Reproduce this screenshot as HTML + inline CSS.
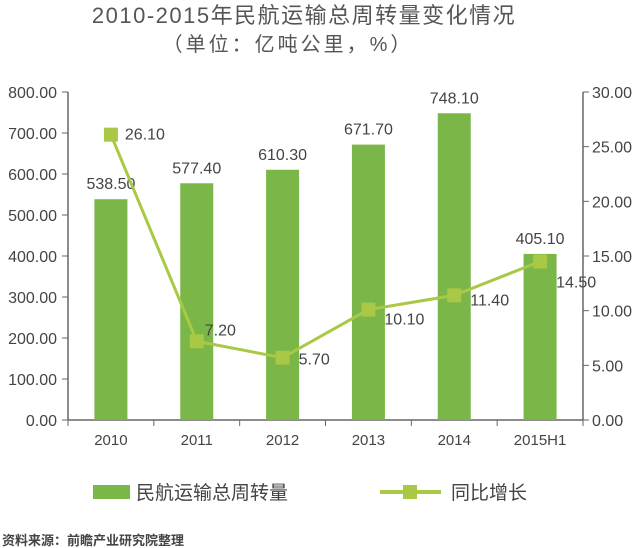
<!DOCTYPE html>
<html><head><meta charset="utf-8"><style>
body{margin:0;background:#fff;width:640px;height:548px;overflow:hidden}
svg{display:block;font-family:"Liberation Sans","Noto Sans CJK SC",sans-serif}
</style></head><body>
<svg width="640" height="548">
<text x="304" y="23" text-anchor="middle" font-size="22" letter-spacing="1.5" fill="#555">2010-2015年民航运输总周转量变化情况</text>
<text x="288" y="51" text-anchor="middle" font-size="20" letter-spacing="3" fill="#555">（单位：亿吨公里，%）</text>
<g id="plot"></g>
<rect x="93" y="485" width="37" height="14" fill="#7ab648"/>
<text x="136" y="499" font-size="19" fill="#444">民航运输总周转量</text>
<line x1="380" y1="492" x2="441" y2="492" stroke="#a8c846" stroke-width="4"/>
<rect x="403" y="485" width="14" height="14" fill="#a8c846"/>
<text x="451" y="499" font-size="19" fill="#444">同比增长</text>
<text x="2" y="545" font-size="13" font-weight="bold" fill="#444">资料来源：前瞻产业研究院整理</text>
</svg>
<script>
const categories=["2010","2011","2012","2013","2014","2015H1"];
const volumes=[538.5,577.4,610.3,671.7,748.1,405.1];
const growth=[26.1,7.2,5.7,10.1,11.4,14.5];
const leftTicks=[0,100,200,300,400,500,600,700,800];
const rightTicks=[0,5,10,15,20,25,30];
const growthLabelDx=[14,8,16,16,16,16];
const growthLabelDy=[5,-6,7,15,10,26];
const NS="http://www.w3.org/2000/svg";
const g=document.getElementById("plot");
const X0=68,X1=583,Y0=420,Y1=92;
const bw=(X1-X0)/categories.length;
const xc=i=>X0+bw*(i+0.5);
const yl=v=>Y0-(v/800)*(Y0-Y1);
const yr=v=>Y0-(v/30)*(Y0-Y1);
function mk(t,a,txt){const e=document.createElementNS(NS,t);for(const k in a)e.setAttribute(k,a[k]);if(txt!==undefined)e.textContent=txt;g.appendChild(e);return e;}
let e;
e=mk("line",{x1:X0,y1:Y1,x2:X0,y2:Y0,stroke:"#666","stroke-width":1.5});


e=mk("line",{x1:X1,y1:Y1,x2:X1,y2:Y0,stroke:"#666","stroke-width":1.5});


e=mk("line",{x1:X0,y1:Y0,x2:X1,y2:Y0,stroke:"#666","stroke-width":1.5});


leftTicks.forEach(v=>{
 mk("line",{x1:X0-6,y1:yl(v),x2:X0,y2:yl(v),stroke:"#666"});
 e=mk("text",{x:X0-11,y:yl(v)+6,"text-anchor":"end","font-size":16,fill:"#444"},v.toFixed(2));
 
 
});
rightTicks.forEach(v=>{
 mk("line",{x1:X1,y1:yr(v),x2:X1+6,y2:yr(v),stroke:"#666"});
 e=mk("text",{x:X1+9,y:yr(v)+6,"font-size":16,fill:"#444"},v.toFixed(2));
 
 
});
for(let i=0;i<=categories.length;i++)mk("line",{x1:X0+bw*i,y1:Y0,x2:X0+bw*i,y2:Y0+6,stroke:"#666"});
categories.forEach((c,i)=>{
 e=mk("text",{x:xc(i),y:Y0+25,"text-anchor":"middle","font-size":15,fill:"#444"},c);
 
 
 e=mk("rect",{x:xc(i)-16.5,y:yl(volumes[i]),width:33,height:Y0-yl(volumes[i]),fill:"#7ab648"});
 
 
 e=mk("text",{x:xc(i),y:yl(volumes[i])-10,"text-anchor":"middle","font-size":16,fill:"#444"},volumes[i].toFixed(2));
 
 
});
e=mk("polyline",{points:growth.map((v,i)=>xc(i)+","+yr(v)).join(" "),fill:"none",stroke:"#a8c846","stroke-width":3});


growth.forEach((v,i)=>{
 e=mk("rect",{x:xc(i)-7,y:yr(v)-7,width:14,height:14,fill:"#a8c846"});
 
 
 e=mk("text",{x:xc(i)+growthLabelDx[i],y:yr(v)+growthLabelDy[i],"font-size":16,fill:"#444"},v.toFixed(2));
 
 
});
</script>
</body></html>
